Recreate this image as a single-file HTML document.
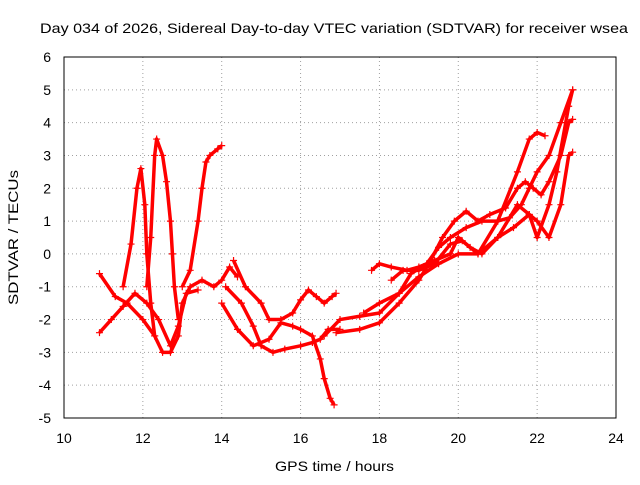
<!DOCTYPE html>
<html><head><meta charset="utf-8"><style>
body{margin:0;background:#fff;}
svg text{font-family:"Liberation Sans",sans-serif;font-size:14px;fill:#000;}
</style></head><body>
<svg id="chart" width="640" height="480" xmlns="http://www.w3.org/2000/svg">
<rect width="640" height="480" fill="#fff"/>
<text x="40" y="33" textLength="588" lengthAdjust="spacingAndGlyphs">Day 034 of 2026, Sidereal Day-to-day VTEC variation (SDTVAR) for receiver wsea</text>
<text x="275" y="471" textLength="119" lengthAdjust="spacingAndGlyphs">GPS time / hours</text>
<text transform="translate(18,305) rotate(-90)" textLength="135" lengthAdjust="spacingAndGlyphs">SDTVAR / TECUs</text>
<g id="grid"></g><g id="ticks"></g><g id="series"></g>
<rect x="64" y="57" width="552" height="361" fill="none" stroke="#000" stroke-width="1"/>
</svg>
<script>
const xTicks=[10,12,14,16,18,20,22,24];
const yTicks=[-5,-4,-3,-2,-1,0,1,2,3,4,5,6];
const trackA=[[10.9,-0.6],[11.3,-1.3],[11.6,-1.5],[12.0,-2.0],[12.3,-2.5],[12.5,-3.0],[12.7,-3.0],[12.9,-2.5],[13.0,-1.5],[13.2,-1.0],[13.5,-0.8],[13.8,-1.0],[14.0,-0.8],[14.2,-0.4],[14.4,-0.7]];
const trackB=[[11.5,-1.0],[11.7,0.3],[11.85,2.0],[11.95,2.6],[12.05,1.5],[12.1,0],[12.2,-1.5],[12.3,-2.5]];
const trackC=[[12.1,-1.0],[12.2,0.5],[12.3,3.0],[12.35,3.5],[12.5,3.0],[12.6,2.2],[12.7,1.0],[12.75,0],[12.8,-1.0],[12.9,-2.0]];
const trackD=[[13.0,-1.0],[13.2,-0.5],[13.4,1.0],[13.5,2.0],[13.6,2.8],[13.7,3.0],[13.9,3.2],[14.0,3.3]];
const trackE=[[10.9,-2.4],[11.2,-2.0],[11.5,-1.6],[11.8,-1.2],[12.1,-1.5],[12.4,-2.0],[12.7,-2.8],[12.9,-2.2],[13.1,-1.2],[13.4,-1.1]];
const trackF=[[14.1,-1.0],[14.5,-1.5],[14.8,-2.2],[15.0,-2.8],[15.3,-3.0],[15.6,-2.9],[16.0,-2.8],[16.3,-2.7],[16.5,-2.6],[16.7,-2.3],[17.0,-2.3]];
const trackG=[[14.3,-0.2],[14.6,-1.0],[15.0,-1.5],[15.2,-2.0],[15.5,-2.0],[15.8,-1.8],[16.0,-1.4],[16.2,-1.1],[16.4,-1.3],[16.6,-1.5],[16.8,-1.3],[16.9,-1.2]];
const trackH=[[14.0,-1.5],[14.4,-2.3],[14.8,-2.8],[15.2,-2.6],[15.5,-2.1],[15.8,-2.2],[16.0,-2.3],[16.3,-2.5],[16.5,-3.2],[16.6,-3.8],[16.75,-4.4],[16.85,-4.6]];
const trackI=[[16.6,-2.5],[17.0,-2.0],[17.5,-1.9],[18.0,-1.8],[18.5,-1.2],[18.8,-0.6],[19.2,-0.3],[19.5,0.2],[19.8,0.5],[20.2,0.8],[20.6,1.0],[21.0,1.0],[21.3,1.1],[21.6,1.5],[21.8,2.0],[22.0,2.5],[22.3,3.0],[22.6,4.0],[22.9,5.0]];
const trackJ=[[16.9,-2.4],[17.5,-2.3],[18.0,-2.1],[18.5,-1.5],[19.0,-0.8],[19.3,-0.2],[19.6,0.5],[19.9,1.0],[20.2,1.3],[20.5,1.0],[20.8,1.2],[21.2,1.4],[21.5,2.0],[21.7,2.2],[21.9,2.0],[22.1,1.8],[22.3,2.2],[22.6,3.0],[22.8,4.0],[22.9,4.1]];
const trackK=[[17.8,-0.5],[18.0,-0.3],[18.3,-0.4],[18.7,-0.5],[19.0,-0.4],[19.4,-0.2],[19.8,0.0],[20.0,0.5],[20.3,0.2],[20.6,0.0],[21.0,0.5],[21.4,0.8],[21.8,1.2],[22.0,1.0],[22.3,0.5],[22.6,1.5],[22.8,3.0],[22.9,3.1]];
const trackL=[[18.3,-0.8],[18.6,-0.5],[19.0,-0.5],[19.4,-0.3],[19.8,0.3],[20.1,0.4],[20.5,0.0],[21.0,1.0],[21.5,2.5],[21.8,3.5],[22.0,3.7],[22.2,3.6]];
const trackM=[[17.6,-1.8],[18.0,-1.5],[18.5,-1.2],[19.0,-0.7],[19.5,-0.3],[20.0,0.0],[20.5,0.0],[21.0,0.5],[21.5,1.5],[21.8,1.2],[22.0,0.5],[22.3,1.5],[22.5,2.5],[22.8,4.5],[22.9,5.0]];
const tracks=[trackA,trackB,trackC,trackD,trackE,trackF,trackG,trackH,trackI,trackJ,trackK,trackL,trackM];

const NS="http://www.w3.org/2000/svg";
const X0=64,X1=616,Y0=418,Y1=57;
function xs(t){return X0+(t-10)/(24-10)*(X1-X0);}
function ys(v){return Y0-(v+5)/(6+5)*(Y0-Y1);}
function mk(tag,attrs,parent){const e=document.createElementNS(NS,tag);for(const k in attrs)e.setAttribute(k,attrs[k]);parent.appendChild(e);return e;}
const grid=document.getElementById('grid'),ticks=document.getElementById('ticks'),ser=document.getElementById('series');
xTicks.forEach(t=>{
  const x=xs(t);
  if(t>10&&t<24){const g=mk('line',{x1:x,x2:x,y1:Y1,y2:Y0,stroke:'#a0a0a0','stroke-dasharray':'1,3'},grid);
  
  }
  const l=mk('text',{x:x,y:443,'text-anchor':'middle'},ticks);l.textContent=t;
  
  
});
yTicks.forEach(v=>{
  const y=ys(v);
  if(v>-5&&v<6){const g=mk('line',{x1:X0,x2:X1,y1:y,y2:y,stroke:'#a0a0a0','stroke-dasharray':'1,3'},grid);
  
  }
  const l=mk('text',{x:51,y:y+5,'text-anchor':'end'},ticks);l.textContent=v;
  
  
});
tracks.forEach((tr,i)=>{
  const g=mk('g',{},ser);
  
  
  mk('polyline',{points:tr.map(p=>xs(p[0])+','+ys(p[1])).join(' '),fill:'none',stroke:'#f00','stroke-width':3.5,'stroke-linejoin':'round'},g);
  tr.forEach(p=>{const x=xs(p[0]),y=ys(p[1]);
    mk('path',{d:`M${x-3.5},${y}H${x+3.5}M${x},${y-3.5}V${y+3.5}`,stroke:'#f00','stroke-width':1.2},g);});
});
</script>
</body></html>
